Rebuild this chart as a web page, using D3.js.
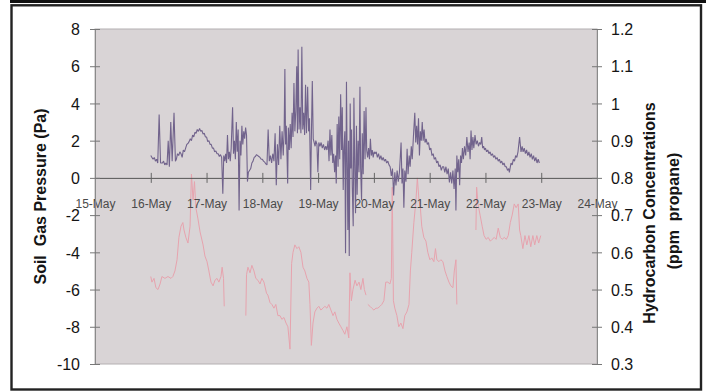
<!DOCTYPE html>
<html>
<head>
<meta charset="utf-8">
<script src="https://cdn.jsdelivr.net/npm/d3@7"></script>
<style>
  body { margin: 0; background: #fff; }
  svg { display: block; font-family: "Liberation Sans", Arial, sans-serif; }
</style>
</head>
<body>
<div id="chart"></div>
<script>
// axis ticks
const pressureTicks = [-10, -8, -6, -4, -2, 0, 2, 4, 6, 8];
const hcTicks = [0.3, 0.4, 0.5, 0.6, 0.7, 0.8, 0.9, 1.0, 1.1, 1.2];
const dayRange = [new Date(2000, 4, 15), new Date(2000, 4, 24)];
const seriesStart = new Date(2000, 4, 16); // hours counted from 16-May 00:00

// soil gas pressure (Pa): [hours since 16-May, value]
const pressureReadings = [
  [0, 1.2], [0.5, 1.1], [1, 1.0], [1.5, 1.1], [2, 0.9], [2.5, 1.0], [3, 0.8], [3.6, 3.4], [4.2, 0.8],
  [5, 0.8], [5.5, 0.9], [6, 0.7], [6.5, 0.8], [7, 0.7], [7.5, 2.0], [8, 0.6], [8.6, 3.0], [9.2, 0.9],
  [10, 3.5], [10.6, 0.9], [11, 1.0], [11.5, 1.3], [12, 1.2], [12.5, 1.4], [13, 1.3], [13.5, 1.1], [14, 1.5],
  [14.5, 1.4], [15, 1.6], [15.5, 1.8], [16, 1.85], [16.5, 1.95], [17, 2.1], [17.5, 2.0], [18, 2.3],
  [18.5, 2.2], [19, 2.45], [19.5, 2.4], [20, 2.6], [20.5, 2.5], [21, 2.65], [21.5, 2.5], [22, 2.55],
  [22.5, 2.35], [23, 2.4], [23.5, 2.2], [24, 2.2], [24.5, 1.95], [25, 2.0], [25.5, 1.8], [26, 1.8],
  [26.5, 1.6], [27, 1.6], [27.5, 1.4], [28, 1.45], [28.5, 1.3], [29, 1.3], [29.5, 1.15], [30, 1.25],
  [30.5, 1.1], [31, -0.85], [31.4, 1.2], [31.8, 0.9], [32.2, 1.3], [32.6, 0.8], [33, 2.3], [33.4, 1.0],
  [33.8, 1.4], [34.2, 0.9], [34.6, 1.6], [35.2, 3.8], [35.6, 1.3], [36, 2.0], [36.4, 1.0], [36.8, 3.0],
  [37.2, 1.4], [37.6, 2.6], [38, -1.75], [38.4, 2.0], [38.8, 1.2], [39.2, 2.8], [39.6, 1.8], [40, 2.5],
  [40.4, 2.1], [40.8, 2.7], [41.2, 2.3], [41.6, -0.2], [42, 0.3],
  [43, 0.5], [43.5, 0.8], [44, 0.9], [44.5, 1.1], [45, 1.15], [45.5, 1.25], [46, 1.2], [46.5, 1.15],
  [47, 1.1], [47.5, 1.0], [48, 1.0], [48.5, 0.9], [49, 0.85], [49.5, 0.75], [50, 0.7],
  [50.5, 2.6], [51, 0.9], [51.5, 1.2], [52, 0.8], [52.5, 1.3], [53, 0.9], [53.5, 2.4], [54, -0.4],
  [54.5, 1.8], [55, 0.7], [55.5, 2.8], [56, 1.0], [56.5, 2.5], [57, 1.2], [57.4, 2.6], [57.7, 5.85],
  [58, 1.8], [58.3, 2.8], [58.6, 1.3], [58.9, -0.3], [59.2, 2.7], [59.6, 1.5], [60, 2.9], [60.4, 1.6],
  [60.8, 3.5], [61.2, 2.2], [61.6, 5.1], [62, 2.5], [62.4, 3.6], [62.8, 6.0], [63.1, 2.4], [63.4, 6.9],
  [63.8, 2.6], [64.2, 3.8], [64.6, 2.4], [65, 7.05], [65.4, 2.6], [65.8, 3.5], [66.2, 2.3], [66.6, 5.0],
  [67, 2.4], [67.5, 4.9], [67.9, 2.5], [68.3, 3.2], [68.8, -0.65], [69.1, 2.2], [69.5, 5.2], [69.9, 2.1],
  [70.3, 1.9], [70.7, 1.7], [71, 2.0], [71.5, 1.8], [71.9, 0.3], [72.3, 1.9], [72.8, 1.7], [73.3, 1.9],
  [73.8, 1.6], [74.3, 1.8], [74.8, 1.5], [75.3, 1.7], [75.8, 1.5], [76.3, 2.0], [76.7, 0.9], [77.1, 2.6],
  [77.5, 1.2], [77.9, 2.3], [78.3, 0.8], [78.7, 1.3], [79.1, 0.3], [79.5, 1.2], [79.8, -0.3], [80.2, 2.9],
  [80.6, 0.6], [80.9, 3.3], [81.3, 1.0], [81.7, 4.5], [82.1, 1.5], [82.4, 3.8], [82.8, -0.65], [83.1, 1.5],
  [83.5, 2.5], [83.8, -4.05], [84.2, 5.17], [84.5, 0.8], [84.8, -2.8], [85.1, 2.0], [85.4, -4.2], [85.8, 4.0],
  [86.1, 0.5], [86.4, 2.6], [86.7, -0.5], [87.1, -2.6], [87.4, 4.3], [87.8, 0.3], [88.1, -1.9], [88.5, 2.8],
  [88.8, -0.9], [89.2, 2.0], [89.6, 0.3], [90, 4.9], [90.3, 0.5], [90.7, -1.2], [91, 2.4], [91.4, 0.2],
  [91.8, 3.6], [92.2, 1.0], [92.6, 3.8], [92.9, 1.5], [93.3, 1.1], [93.7, 1.6], [94.1, 1.0], [94.5, 2.1],
  [94.9, 1.2], [95.3, 1.5], [95.7, 1.1], [96.1, 1.4], [96.5, 1.3], [97, 1.4], [97.5, 1.1], [98, 1.3],
  [98.5, 1.0], [99, 1.2], [99.5, 0.95], [100, 1.1], [100.5, 0.9], [101, 1.0], [101.5, 0.8], [102, 0.9],
  [102.5, 0.7], [103, 0.6], [103.5, 0.1], [104, 0.5], [104.5, -0.95], [105, 0.3], [105.5, -0.4], [106, 0.4],
  [106.5, -0.2], [107, 0.3], [107.7, 1.9], [108.1, -0.3], [108.5, 0.5], [108.9, -1.6], [109.3, 0.4], [109.8, -0.2],
  [110.3, 1.56], [110.7, 0.2], [111.2, 1.2], [111.6, 0.6], [112.1, 1.7], [112.5, 1.0], [113, 2.2], [113.6, 3.5],
  [114, 1.9], [114.4, 2.8], [114.8, 1.8], [115.2, 3.2], [115.6, 1.2], [116, 2.5], [116.4, 2.0], [116.8, 3.0],
  [117.2, 2.0], [117.6, 2.6], [118, 1.9], [118.5, 2.1], [119, 1.8], [119.5, 1.9], [120, 1.5], [120.5, 1.6],
  [121, 1.2], [121.5, 1.3], [122, 1.0], [122.5, 1.1], [123, 0.8], [123.5, 0.9], [124, 0.6], [124.5, 0.7],
  [125, 0.4], [125.5, 0.6], [126, 0.6], [126.5, 0.3], [127, 0.6], [127.5, 0.2], [128, 0.5], [128.5, -0.25],
  [129, 0.3], [129.5, -0.3], [130, 0.4], [130.5, -0.6], [131, 0.5], [131.3, -1.75], [131.7, 1.2], [132.1, 0.3],
  [132.5, 1.0], [132.9, -0.4], [133.3, 1.2], [133.7, 0.8], [134.1, 1.6], [134.5, 1.0], [135, 1.7], [135.5, 1.2],
  [136, 2.2], [136.5, 1.4], [137, 1.9], [137.4, 1.0], [137.8, 2.55], [138.2, 1.5], [138.6, 2.2], [139, 1.6],
  [139.5, 2.3], [140, 1.8], [140.5, 2.0], [141, 1.7], [141.5, 1.9], [142, 1.8], [142.4, 2.2], [142.8, 1.6],
  [143.2, 1.7], [143.6, 1.5], [144, 1.6], [144.5, 1.4], [145, 1.5], [145.5, 1.3], [146, 1.4], [146.5, 1.2],
  [147, 1.3], [147.5, 1.1], [148, 1.2], [148.5, 1.0], [149, 1.1], [149.5, 0.9], [150, 1.0], [150.5, 0.8],
  [151, 0.9], [151.5, 0.7], [152, 0.8], [152.5, 0.6], [153, 0.6], [153.5, 0.4], [154, 0.5], [154.3, 0.3],
  [155, 0.8], [155.5, 0.7], [156, 1.0], [156.5, 0.9], [157, 1.2], [157.5, 1.1], [158, 1.4], [158.7, 2.2],
  [159.3, 1.4], [159.8, 1.7], [160.2, 1.4], [160.7, 1.6], [161.2, 1.3], [161.7, 1.5], [162.2, 1.2], [162.7, 1.4],
  [163.2, 1.1], [163.7, 1.3], [164.2, 1.0], [164.7, 1.2], [165.2, 0.9], [165.7, 1.1], [166.2, 0.8], [166.7, 1.0],
  [167.2, 0.8]
];

// hydrocarbon concentration (ppm propane): [hours since 16-May, value], null = gap
const hcReadings = [
  [0, 0.535], [0.5, 0.52], [1.4, 0.53], [2.2, 0.505], [3.1, 0.50], [4, 0.515], [4.8, 0.535], [6.1, 0.53],
  [7.4, 0.535], [8.7, 0.53], [9.5, 0.535], [10.4, 0.55], [11.3, 0.58], [12.1, 0.64], [13, 0.67], [13.8, 0.68],
  [14.3, 0.66], [15.1, 0.64], [16, 0.625], [16.9, 0.67], [17.5, 0.81], [18.2, 0.74], [18.8, 0.79], [19.4, 0.72],
  [20.3, 0.69], [21.2, 0.655], [22.5, 0.62], [23.3, 0.59], [24.2, 0.575], [25, 0.55], [25.9, 0.52], [26.8, 0.51],
  [27.6, 0.525], [28.5, 0.53], [29.3, 0.52], [30.2, 0.535], [30.7, 0.56], [31.3, 0.53], [31.6, 0.455],
  [36, null],
  [40.9, 0.43], [41.2, 0.54], [41.8, 0.56], [42.7, 0.545], [43.5, 0.565], [44.4, 0.55], [45.2, 0.53], [46.1, 0.525],
  [47, 0.515], [47.8, 0.53], [48.7, 0.52], [49.8, 0.49], [50.4, 0.485], [51.3, 0.465], [52.1, 0.46], [53, 0.45],
  [53.8, 0.46], [54.7, 0.43], [55.6, 0.43], [56.4, 0.42], [57.3, 0.425], [58.2, 0.41], [59, 0.40], [59.9, 0.34],
  [60.6, 0.57], [61.2, 0.60], [62, 0.62], [62.9, 0.61], [63.7, 0.615], [64.6, 0.60], [65.5, 0.56], [66.3, 0.55],
  [67.2, 0.53], [68, 0.52], [68.5, 0.46], [69.1, 0.35], [69.8, 0.41], [70.6, 0.44], [71.5, 0.45], [72.3, 0.455],
  [73.2, 0.445], [74.1, 0.45], [74.9, 0.455], [75.8, 0.45], [76.6, 0.46], [77.5, 0.445], [78.4, 0.43], [79.2, 0.44],
  [80.1, 0.42], [80.9, 0.41], [81.8, 0.40], [82.7, 0.39], [83.5, 0.38], [84.4, 0.40], [85.2, 0.37], [85.7, 0.545],
  [86.3, 0.47], [87, 0.50], [87.9, 0.525], [88.7, 0.51], [89.6, 0.52], [90.4, 0.50], [91.3, 0.53], [91.9, 0.50],
  [92.6, 0.485],
  [93, null],
  [93.4, 0.46], [94.3, 0.455], [95.1, 0.45], [96, 0.445], [96.9, 0.45], [97.7, 0.45], [98.6, 0.455], [99.4, 0.46],
  [100.3, 0.47], [101.1, 0.52], [102, 0.52], [102.9, 0.515], [103.5, 0.53], [103.9, 0.775], [104.4, 0.47], [105, 0.45],
  [105.9, 0.43], [106.7, 0.40], [107.6, 0.41], [108.5, 0.395], [109.3, 0.43], [110.2, 0.44], [111.1, 0.46], [111.7, 0.55],
  [112.3, 0.60], [113.2, 0.68], [114.1, 0.74], [114.7, 0.80], [115.4, 0.74], [116, 0.72], [116.6, 0.67], [117.5, 0.64],
  [118.4, 0.63], [119.2, 0.60], [120.1, 0.58], [120.9, 0.585], [121.8, 0.575], [122.5, 0.61], [123.1, 0.58], [124, 0.575],
  [124.8, 0.58], [125.7, 0.575], [126.6, 0.55], [127.4, 0.535], [128.3, 0.52], [129.1, 0.51], [130, 0.505], [130.6, 0.55],
  [131.3, 0.58], [131.7, 0.46],
  [135, null],
  [139.9, 0.66], [140.2, 0.775], [140.8, 0.73], [141.7, 0.70], [142.6, 0.67], [143.4, 0.645], [144.3, 0.635], [145.2, 0.64],
  [146.1, 0.63], [146.9, 0.635], [147.8, 0.64], [148.6, 0.635], [149.5, 0.665], [150.4, 0.64], [151.2, 0.635], [152.1, 0.64],
  [153, 0.635], [153.8, 0.645], [154.7, 0.68], [155.5, 0.70], [156.4, 0.73], [157.2, 0.72], [158.1, 0.73], [158.7, 0.66],
  [159.2, 0.645], [160.1, 0.61], [161, 0.645], [161.8, 0.62], [162.7, 0.645], [163.5, 0.615], [164.4, 0.645], [165.2, 0.62],
  [166.1, 0.645], [166.9, 0.625], [167.8, 0.645]
];

const width = 706, height = 391;
const plot = { left: 95, right: 597, top: 29, bottom: 364 };
const font = "Liberation Sans, Arial, sans-serif";

const svg = d3.select("#chart").append("svg")
  .attr("width", width)
  .attr("height", height);

// outer frame
svg.append("rect").attr("x", 10).attr("y", 0).attr("width", 696).attr("height", 3).attr("fill", "#111");
svg.append("rect")
  .attr("x", 11.5).attr("y", 5.3).attr("width", 689.5).attr("height", 384.2)
  .attr("fill", "none").attr("stroke", "#222").attr("stroke-width", 2.4);

const x = d3.scaleTime().domain(dayRange).range([plot.left, plot.right]);
const y = d3.scaleLinear().domain([-10, 8]).range([plot.bottom, plot.top]);
const yR = d3.scaleLinear().domain([0.3, 1.2]).range([plot.bottom, plot.top]);
const hourToDate = (h) => d3.timeMinute.offset(seriesStart, Math.round(h * 60));

// plot area
svg.append("rect")
  .attr("x", plot.left).attr("y", plot.top)
  .attr("width", plot.right - plot.left).attr("height", plot.bottom - plot.top)
  .attr("fill", "#d9d4d6").attr("stroke", "#b4b0b2").attr("stroke-width", 1);

// hydrocarbon series (right axis)
svg.append("path")
  .datum(hcReadings)
  .attr("fill", "none")
  .attr("stroke", "#e7a3ae")
  .attr("stroke-width", 1)
  .attr("d", d3.line()
    .defined((d) => d[1] !== null)
    .x((d) => x(hourToDate(d[0])))
    .y((d) => yR(d[1])));

// x axis on the zero line
const xAxis = svg.append("g")
  .attr("transform", `translate(0,${y(0)})`)
  .call(d3.axisBottom(x).ticks(d3.timeDay.every(1)).tickFormat(d3.timeFormat("%-d-%b")).tickSize(5).tickSizeOuter(0));
xAxis.select(".domain").attr("stroke", "#555");
xAxis.selectAll(".tick line").attr("y1", -5).attr("stroke", "#666");
xAxis.selectAll(".tick text")
  .attr("y", 22).attr("dy", "0.71em")
  .attr("fill", "#4a4a4a").style("font-size", "12px").style("font-family", font);

// pressure series (left axis)
svg.append("path")
  .datum(pressureReadings)
  .attr("fill", "none")
  .attr("stroke", "#71638c")
  .attr("stroke-width", 1.1)
  .attr("stroke-linejoin", "bevel")
  .attr("d", d3.line()
    .x((d) => x(hourToDate(d[0])))
    .y((d) => y(d[1])));

// left axis
const leftAxis = svg.append("g")
  .attr("transform", `translate(${plot.left},0)`)
  .call(d3.axisLeft(y).tickValues(pressureTicks).tickSizeInner(5).tickSizeOuter(0).tickPadding(10)
    .tickFormat((d) => String(d)));
leftAxis.select(".domain").attr("stroke", "#8a8a8a");
leftAxis.selectAll(".tick line").attr("x1", 5).attr("stroke", "#777");
leftAxis.selectAll(".tick text")
  .attr("dy", "0.36em").attr("fill", "#151515")
  .style("font-size", "16px").style("font-family", font);

// right axis
const rightAxis = svg.append("g")
  .attr("transform", `translate(${plot.right},0)`)
  .call(d3.axisRight(yR).tickValues(hcTicks).tickSizeInner(5).tickSizeOuter(0).tickPadding(9)
    .tickFormat((d) => String(+d.toFixed(1))));
rightAxis.select(".domain").attr("stroke", "#8a8a8a");
rightAxis.selectAll(".tick line").attr("x1", -5).attr("stroke", "#777");
rightAxis.selectAll(".tick text")
  .attr("dy", "0.36em").attr("fill", "#151515")
  .style("font-size", "16px").style("font-family", font);

// axis titles
svg.append("text")
  .attr("transform", `translate(46,${(plot.top + plot.bottom) / 2}) rotate(-90)`)
  .attr("text-anchor", "middle")
  .attr("fill", "#151515")
  .style("font-size", "16px").style("font-weight", "bold").style("white-space", "pre")
  .text("Soil  Gas Pressure (Pa)");

svg.append("text")
  .attr("transform", "translate(655,213) rotate(-90)")
  .attr("text-anchor", "middle")
  .attr("fill", "#151515")
  .style("font-size", "16px").style("font-weight", "bold")
  .text("Hydrocarbon Concentrations");

svg.append("text")
  .attr("transform", "translate(679,211) rotate(-90)")
  .attr("text-anchor", "middle")
  .attr("fill", "#151515")
  .style("font-size", "16px").style("font-weight", "bold").style("white-space", "pre")
  .text("(ppm  propane)");
</script>
</body>
</html>
